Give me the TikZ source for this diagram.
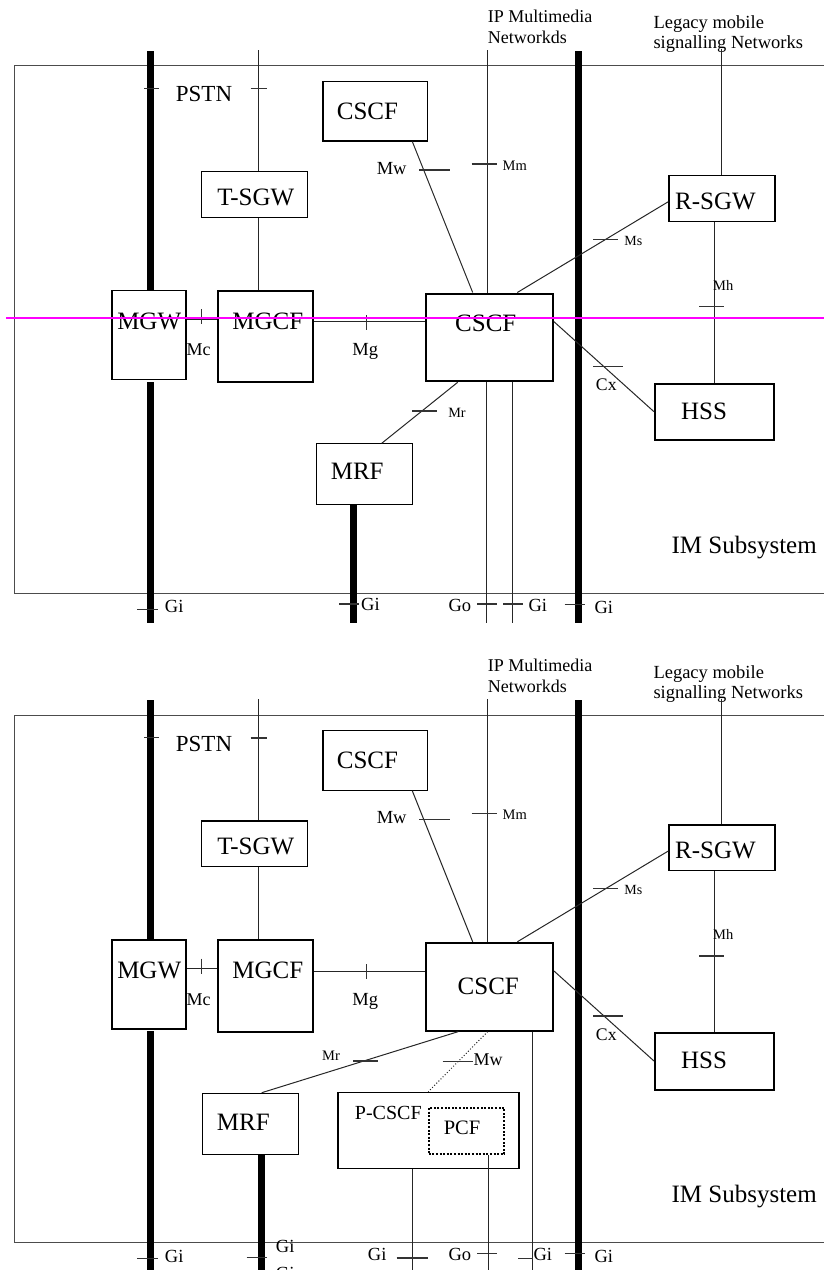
\documentclass[tikz,border=0pt]{standalone}
\usepackage{fontspec}
\setmainfont{Liberation Serif}
\definecolor{markerpink}{RGB}{255,0,255}

\begin{document}
\begin{tikzpicture}[
  x=1pt, y=-1pt,
  box/.style={draw, line width=1.2pt, inner sep=0pt, anchor=north west},
  heavybox/.style={box, line width=2pt},
  policybox/.style={box, line width=2pt, dash pattern=on 2pt off 1.6pt},
  trunk/.style={line width=6.7pt},
  link/.style={line width=1pt, black!85},
  tick/.style={line width=1.2pt, black!80},
  frame/.style={line width=1pt, black!70},
  boxlab/.style={anchor=base, inner sep=0pt, font=\fsz{25}},
  iflab/.style={anchor=base, inner sep=0pt, font=\fsz{18.5}},
  smalllab/.style={anchor=base, inner sep=0pt, font=\fsz{14.5}},
  netlab/.style={anchor=north west, inner sep=0pt, align=left}
]
\newcommand{\fsz}[1]{\fontsize{#1pt}{#1pt}\selectfont}

\useasboundingbox (0,0) rectangle (824,1270);
\clip (0,0) rectangle (824,1270);

% ---------- Parts shared by both diagrams ----------
\foreach \d/\s in {0/a,649.3/b}{
  % IM subsystem frame
  \draw[frame] (824,65.7+\d) -| (14,593.3+\d) -- (824,593.3+\d);

  % boxes
  \node[box, minimum width=104.4pt, minimum height=59.6pt] (ECSCF\s) at (322.3,80.7+\d) {};
  \node[box, minimum width=106pt, minimum height=45.7pt] (TSGW\s) at (200.7,171+\d) {};
  \node[box, minimum width=106pt, minimum height=45.7pt] (RSGW\s) at (668.3,175+\d) {};
  \node[box, minimum width=74pt, minimum height=89pt] (MGW\s) at (111.3,290+\d) {};
  \node[heavybox, minimum width=95.3pt, minimum height=91.3pt] (MGCF\s) at (217,290+\d) {};
  \node[heavybox, minimum width=127pt, minimum height=87.8pt] (CSCF\s) at (425,292.5+\d) {};
  \node[heavybox, minimum width=118.7pt, minimum height=56.6pt] (HSS\s) at (654,382.7+\d) {};

  \node[boxlab] at (367.5,119+\d) {CSCF};
  \node[boxlab] at (255.8,205+\d) {T-SGW};
  \node[boxlab] at (715.5,209.3+\d) {R-SGW};
  \node[boxlab] at (149.2,329.3+\d) {MGW};
  \node[boxlab] at (267.8,329.3+\d) {MGCF};
  \node[boxlab] at (704,419+\d) {HSS};
  \node[boxlab, font=\fsz{23}] at (204,101.7+\d) {PSTN};
  \node[boxlab] at (744.2,553.3+\d) {IM Subsystem};
  \node[netlab, font={\fontsize{18pt}{21pt}\selectfont}] at (487.7,9.4+\d) {IP Multimedia\\Networkds};
  \node[netlab, font={\fontsize{18.5pt}{20pt}\selectfont}] at (653.3,15.7+\d) {Legacy mobile\\signalling Networks};

  % bearer trunks
  \draw[trunk] (150.7,51+\d) -- (150.7,0 |- MGW\s.north);
  \draw[trunk] (150.7,382+\d) -- (150.7,623+\d);
  \draw[trunk] (578.7,51+\d) -- (578.7,623+\d);

  % signalling links
  \draw[link] (258.7,50+\d) -- (258.7,0 |- TSGW\s.north);
  \draw[link] (258.7,0 |- TSGW\s.south) -- (258.7,0 |- MGCF\s.north);
  \draw[link] (721.3,49.3+\d) -- (721.3,0 |- RSGW\s.north);
  \draw[link] (487.7,50+\d) -- (487.7,0 |- CSCF\s.north);
  \draw[link] (412.3,0 |- ECSCF\s.south) -- (472.7,0 |- CSCF\s.north);
  \draw[link] (RSGW\s.west |- 0,201.7+\d) -- (517.3,0 |- CSCF\s.north);
  \draw[link] (714,0 |- RSGW\s.south) -- (714,0 |- HSS\s.north);
  \draw[link] (CSCF\s.east |- 0,321.7+\d) -- (HSS\s.west |- 0,411.7+\d);
  \draw[link] (MGW\s.east |- 0,319.3+\d) -- (MGCF\s.west |- 0,319.3+\d);
  \draw[link] (MGCF\s.east |- 0,321.7+\d) -- (CSCF\s.west |- 0,321.7+\d);

  % reference point ticks
  \draw[tick] (144,88.5+\d) -- (159.3,88.5+\d);
  \draw[tick] (250.7,88.7+\d) -- (266.7,88.7+\d);
  \draw[tick] (419.3,170+\d) -- (450,170+\d);
  \draw[tick] (471.7,164+\d) -- (497.3,164+\d);
  \draw[tick] (593.3,239.3+\d) -- (618.3,239.3+\d);
  \draw[tick] (699,306.7+\d) -- (724,306.7+\d);
  \draw[tick] (593.3,366.7+\d) -- (623.3,366.7+\d);
  \draw[tick] (201.3,309.3+\d) -- (201.3,324.3+\d);
  \draw[tick] (366.7,315+\d) -- (366.7,330+\d);
  \draw[tick] (137,609.3+\d) -- (157.7,609.3+\d);
  \draw[tick] (564.7,604.3+\d) -- (585.3,604.3+\d);
  \draw[tick] (477.3,604+\d) -- (497.3,604+\d);

  \node[iflab] at (391.7,174.3+\d) {Mw};
  \node[smalllab] at (514.7,170+\d) {Mm};
  \node[smalllab, font=\fsz{14}] at (633.3,245+\d) {Ms};
  \node[smalllab] at (723.3,290+\d) {Mh};
  \node[iflab, font=\fsz{17.7}] at (606.3,390.7+\d) {Cx};
  \node[iflab, font=\fsz{18}] at (198.7,355.7+\d) {Mc};
  \node[iflab] at (365.3,355.7+\d) {Mg};
  \node[iflab, anchor=base west] at (164.7,612.7+\d) {Gi};
  \node[iflab, anchor=base west] at (594.3,613.3+\d) {Gi};
  \node[iflab, anchor=base west] at (448.3,611.5+\d) {Go};
}

% ---------- Upper diagram ----------
\node[box, line width=1pt, minimum width=95.7pt, minimum height=61pt] (MRFa) at (316,443.3) {};
\node[boxlab] at (357.2,479) {MRF};
\node[boxlab] at (485.8,331.7) {CSCF};

\draw[link] (457.7,0 |- CSCFa.south) -- (381.7,0 |- MRFa.north);
\draw[trunk] (353.3,0 |- MRFa.south) -- (353.3,623);
\draw[link] (486,0 |- CSCFa.south) -- (486,623);
\draw[link] (512.3,0 |- CSCFa.south) -- (512.3,623);

\draw[tick] (412.3,411) -- (437.3,411);
\draw[tick] (339,604) -- (359,604);
\draw[tick] (503.3,604) -- (523.3,604);
\node[smalllab, font=\fsz{14.2}] at (457,417.3) {Mr};
\node[iflab, anchor=base west] at (361,610) {Gi};
\node[iflab, anchor=base west] at (528.3,611.7) {Gi};

% ---------- Lower diagram ----------
\node[box, line width=1pt, minimum width=95.4pt, minimum height=61.3pt] (MRFb) at (202.3,1092.7) {};
\node[box, minimum width=181pt, minimum height=76pt] (PCSCF) at (337.3,1091.7) {};
\node[policybox, minimum width=75.6pt, minimum height=46.6pt] (PCF) at (427.7,1106.7) {};
\node[boxlab] at (243.3,1130) {MRF};
\node[boxlab] at (488.3,994.3) {CSCF};
\node[boxlab, font=\fsz{20}] at (388.3,1119.3) {P-CSCF};
\node[boxlab, font=\fsz{20.5}] at (462,1134) {PCF};

\draw[link] (458.3,0 |- CSCFb.south) -- (261.7,0 |- MRFb.north);
\draw[link, dotted] (487.7,0 |- CSCFb.south) -- (428.3,0 |- PCSCF.north);
\draw[trunk] (261.7,0 |- MRFb.south) -- (261.7,1272);
\draw[link] (412.7,0 |- PCSCF.south) -- (412.7,1272);
\draw[link] (488.7,0 |- PCF.south) -- (488.7,1272);
\draw[link] (532.7,0 |- CSCFb.south) -- (532.7,1272);

\draw[tick] (353.3,1061) -- (377.7,1061);
\draw[tick] (442.7,1061.7) -- (473.3,1061.7);
\draw[tick] (246.7,1257.7) -- (266.7,1257.7);
\draw[tick, line width=2pt] (396.7,1257.7) -- (428.3,1257.7);
\draw[tick] (518.3,1258.3) -- (533.3,1258.3);
\node[smalllab] at (331,1060) {Mr};
\node[iflab, font=\fsz{18}, anchor=base west] at (473.3,1065) {Mw};
\node[iflab, anchor=base west] at (275.7,1252.3) {Gi};
\node[iflab, anchor=base west] at (275.7,1279) {Gi};
\node[iflab, anchor=base west] at (367.7,1260.7) {Gi};
\node[iflab, anchor=base west] at (533.3,1260.7) {Gi};

% ---------- Marker line ----------
\draw[line width=2pt, markerpink] (6,318) -- (824,318);

\end{tikzpicture}
\end{document}
